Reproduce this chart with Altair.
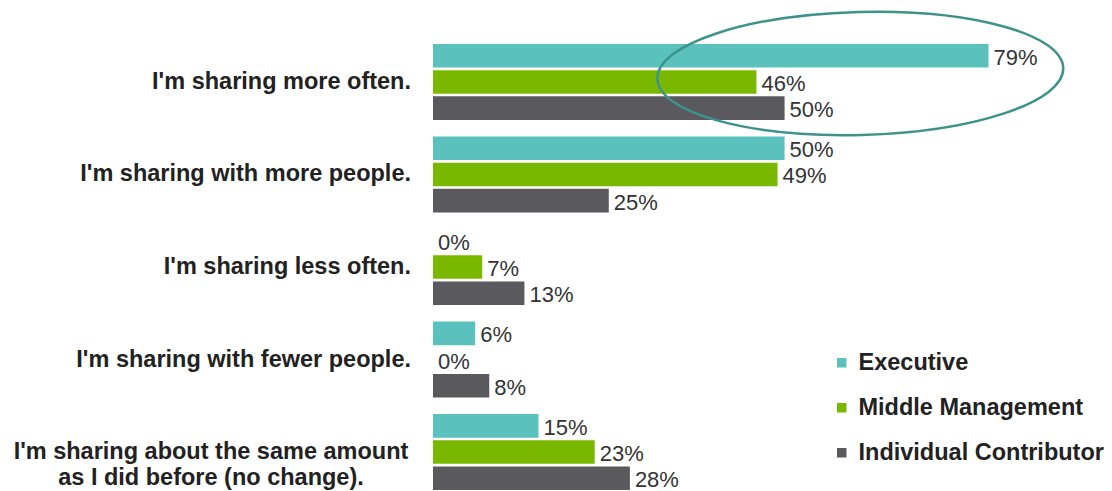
import altair as alt
import pandas as pd

categories = [
    "I'm sharing more often.",
    "I'm sharing with more people.",
    "I'm sharing less often.",
    "I'm sharing with fewer people.",
    "I'm sharing about the same amount as I did before (no change).",
]
display_labels = [
    "I'm sharing more often.",
    "I'm sharing with more people.",
    "I'm sharing less often.",
    "I'm sharing with fewer people.",
    "I'm sharing about the same amount|as I did before (no change).",
]
series = ["Executive", "Middle Management", "Individual Contributor"]
executive = [79, 50, 0, 6, 15]
middle_management = [46, 49, 7, 0, 23]
individual_contributor = [50, 25, 13, 8, 28]
colors = ["#5BC1BC", "#7AB800", "#5A595E"]

rows = []
for vals, s in zip([executive, middle_management, individual_contributor], series):
    for c, v in zip(categories, vals):
        rows.append({"category": c, "series": s, "value": v, "label": f"{v}%"})
df = pd.DataFrame(rows)

lab = pd.DataFrame({"category": categories, "display": display_labels})
lab["multi"] = lab["display"].str.contains(r"\|")

FONT = "Liberation Sans"

y_enc = alt.Y("category:N", sort=categories, axis=None,
              scale=alt.Scale(paddingInner=0.18, paddingOuter=0))
yoff = alt.YOffset("series:N", sort=series, scale=alt.Scale(paddingInner=0.1))
x_enc = alt.X("value:Q", axis=None, scale=alt.Scale(domain=[0, 95], nice=False))

bars = alt.Chart(df).mark_bar().encode(
    x=x_enc,
    y=y_enc,
    yOffset=yoff,
    color=alt.Color(
        "series:N",
        sort=series,
        scale=alt.Scale(domain=series, range=colors),
        legend=alt.Legend(
            title=None,
            orient="none",
            legendX=397,
            legendY=307,
            symbolType="square",
            symbolSize=90,
            symbolStrokeWidth=0,
            labelFont=FONT,
            labelFontSize=23.5,
            labelFontWeight="bold",
            labelColor="#222222",
            labelOffset=5,
            labelLimit=0,
            rowPadding=20,
            padding=0,
        ),
    ),
)

values = alt.Chart(df).mark_text(
    align="left", baseline="middle", dx=5, dy=2, font=FONT, fontSize=22, color="#333333"
).encode(x=x_enc, y=y_enc, yOffset=yoff, text="label:N")

cat_single = alt.Chart(lab).transform_filter("!datum.multi").mark_text(
    align="right", baseline="middle", font=FONT, fontSize=23.5, fontWeight="bold", color="#222222"
).encode(x=alt.value(-22), y=y_enc, text="display:N")

cat_multi = alt.Chart(lab).transform_filter("datum.multi").transform_calculate(
    lines="split(datum.display, '|')"
).mark_text(
    align="center", baseline="middle", font=FONT, fontSize=23.5, fontWeight="bold",
    color="#222222", lineHeight=26
).encode(x=alt.value(-222), y=y_enc, text="lines:N")

ellipse = alt.Chart(pd.DataFrame({"category": [categories[0]], "value": [60.8]})).mark_point(
    shape="M -1 -0.042 A 1 0.303 0 1 0 1 -0.042 A 1 0.303 0 1 0 -1 -0.042",
    size=164836, filled=False, stroke="#3E928C", strokeWidth=2.5, opacity=1, angle=358.5
).encode(x=x_enc, y=y_enc)

chart = alt.layer(bars, values, cat_single, cat_multi, ellipse).properties(
    width=668,
    height=446,
    background="white",
    autosize=alt.AutoSizeParams(type="none"),
    padding={"left": 433, "top": 44, "right": 11, "bottom": 1},
).configure_view(strokeWidth=0)

chart.save("out.html", embed_options={"renderer": "svg", "actions": False})
